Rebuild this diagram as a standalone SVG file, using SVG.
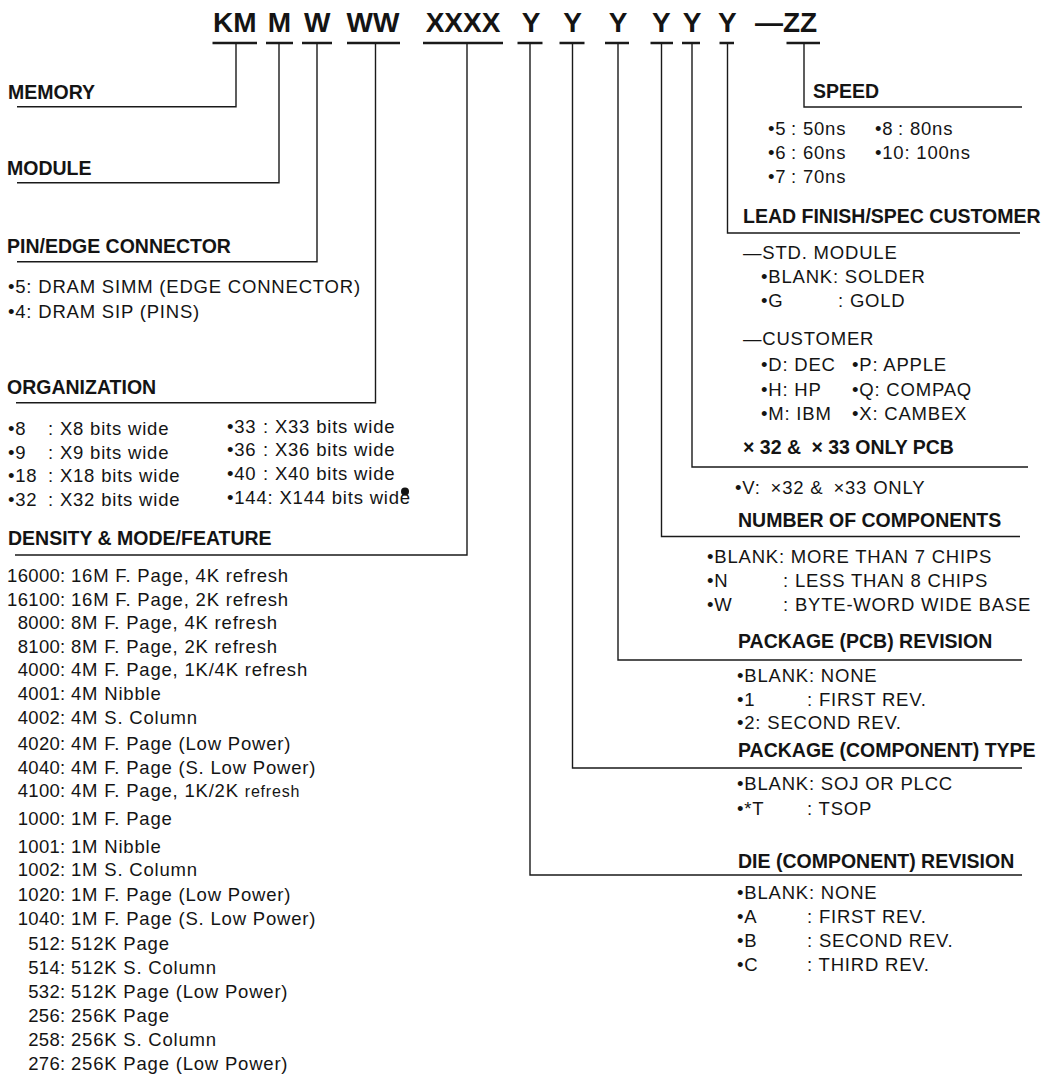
<svg xmlns="http://www.w3.org/2000/svg" width="1043" height="1075" viewBox="0 0 1043 1075">
<style>
text{fill:#141414;font-family:"Liberation Sans",Arial,Helvetica,sans-serif}
.hd{font-size:28px;font-weight:bold;text-anchor:middle}
.h{font-size:19.5px;font-weight:bold}
.t{font-size:18.5px;letter-spacing:0.8px}
.n{font-size:18.5px;letter-spacing:0.3px;text-anchor:end}
.ln{stroke:#1a1a1a;stroke-width:1.4;fill:none}
.ul{stroke:#1a1a1a;stroke-width:2.6;fill:none}
</style>
<rect width="1043" height="1075" fill="#fff"/>

<g id="code">
<text class="hd" x="234.7" y="32">KM</text>
<text class="hd" x="279.5" y="32">M</text>
<text class="hd" x="317.3" y="32">W</text>
<text class="hd" x="373" y="32">WW</text>
<text class="hd" x="463" y="32">XXXX</text>
<text class="hd" x="531" y="32">Y</text>
<text class="hd" x="572.7" y="32">Y</text>
<text class="hd" x="618" y="32">Y</text>
<text class="hd" x="661.3" y="32">Y</text>
<text class="hd" x="692" y="32">Y</text>
<text class="hd" x="727.3" y="32">Y</text>
<text class="hd" x="755" y="32" style="text-anchor:start">—ZZ</text>
<path class="ul" d="M212.5 43H257M266 43H293M302 43H332M347 43H400M423 43H503M517.5 43H542.5M559.5 43H584.5M605 43H629M650.5 43H673M682 43H700M719.5 43H734M786.5 43H820"/>
</g>

<g id="connectors">
<path class="ln" d="M236 43V106.7H17"/>
<path class="ln" d="M279 43V182.7H17"/>
<path class="ln" d="M317 43V261.7H17"/>
<path class="ln" d="M375.5 43V402.7H16"/>
<path class="ln" d="M467 43V555H15"/>
<path class="ln" d="M530 43V875H1022"/>
<path class="ln" d="M572.5 43V768H1022"/>
<path class="ln" d="M618 43V660H1022"/>
<path class="ln" d="M661.5 43V536.5H1020"/>
<path class="ln" d="M692 43V467H1028"/>
<path class="ln" d="M727.5 43V233H1020"/>
<path class="ln" d="M804 43V107H1022"/>
</g>

<g id="memory"><text class="h" x="8" y="99">MEMORY</text></g>
<g id="module"><text class="h" x="7" y="175">MODULE</text></g>
<g id="pin-edge">
<text class="h" x="7" y="253">PIN/EDGE CONNECTOR</text>
<text class="t" x="8" y="293">•5: DRAM SIMM (EDGE CONNECTOR)</text>
<text class="t" x="8" y="318">•4: DRAM SIP (PINS)</text>
</g>
<g id="organization">
<text class="h" x="7" y="394">ORGANIZATION</text>
<text class="t" x="8" y="435">•8<tspan x="48">: X8 bits wide</tspan></text>
<text class="t" x="8" y="458.5">•9<tspan x="48">: X9 bits wide</tspan></text>
<text class="t" x="8" y="482">•18<tspan x="48">: X18 bits wide</tspan></text>
<text class="t" x="8" y="505.5">•32<tspan x="48">: X32 bits wide</tspan></text>
<text class="t" x="227" y="432.5">•33<tspan x="263">: X33 bits wide</tspan></text>
<text class="t" x="227" y="456">•36<tspan x="263">: X36 bits wide</tspan></text>
<text class="t" x="227" y="480">•40<tspan x="263">: X40 bits wide</tspan></text>
<text class="t" x="227" y="504">•144: X144 bits wide</text>
<circle cx="405" cy="491.5" r="4" fill="#141414"/>
</g>
<g id="density">
<text class="h" x="8" y="545">DENSITY &amp; MODE/FEATURE</text>
<text class="n" x="65.5" y="582">16000:</text><text class="t" x="71" y="582">16M F. Page, 4K refresh</text>
<text class="n" x="65.5" y="605.5">16100:</text><text class="t" x="71" y="605.5">16M F. Page, 2K refresh</text>
<text class="n" x="65.5" y="629">8000:</text><text class="t" x="71" y="629">8M F. Page, 4K refresh</text>
<text class="n" x="65.5" y="652.5">8100:</text><text class="t" x="71" y="652.5">8M F. Page, 2K refresh</text>
<text class="n" x="65.5" y="676">4000:</text><text class="t" x="71" y="676">4M F. Page, 1K/4K refresh</text>
<text class="n" x="65.5" y="700">4001:</text><text class="t" x="71" y="700">4M Nibble</text>
<text class="n" x="65.5" y="724">4002:</text><text class="t" x="71" y="724">4M S. Column</text>
<text class="n" x="65.5" y="750">4020:</text><text class="t" x="71" y="750">4M F. Page (Low Power)</text>
<text class="n" x="65.5" y="774">4040:</text><text class="t" x="71" y="774">4M F. Page (S. Low Power)</text>
<text class="n" x="65.5" y="797">4100:</text><text class="t" x="71" y="797">4M F. Page, 1K/2K <tspan style="font-size:16px">refresh</tspan></text>
<text class="n" x="65.5" y="825">1000:</text><text class="t" x="71" y="825">1M F. Page</text>
<text class="n" x="65.5" y="853">1001:</text><text class="t" x="71" y="853">1M Nibble</text>
<text class="n" x="65.5" y="876">1002:</text><text class="t" x="71" y="876">1M S. Column</text>
<text class="n" x="65.5" y="900.5">1020:</text><text class="t" x="71" y="900.5">1M F. Page (Low Power)</text>
<text class="n" x="65.5" y="925">1040:</text><text class="t" x="71" y="925">1M F. Page (S. Low Power)</text>
<text class="n" x="65.5" y="950">512:</text><text class="t" x="71" y="950">512K Page</text>
<text class="n" x="65.5" y="974">514:</text><text class="t" x="71" y="974">512K S. Column</text>
<text class="n" x="65.5" y="998">532:</text><text class="t" x="71" y="998">512K Page (Low Power)</text>
<text class="n" x="65.5" y="1022">256:</text><text class="t" x="71" y="1022">256K Page</text>
<text class="n" x="65.5" y="1046">258:</text><text class="t" x="71" y="1046">256K S. Column</text>
<text class="n" x="65.5" y="1070">276:</text><text class="t" x="71" y="1070">256K Page (Low Power)</text>
</g>

<g id="speed">
<text class="h" x="813" y="97.5">SPEED</text>
<text class="t" x="768" y="135">•5<tspan x="791">: 50ns</tspan></text>
<text class="t" x="768" y="158.5">•6<tspan x="791">: 60ns</tspan></text>
<text class="t" x="768" y="182.5">•7<tspan x="791">: 70ns</tspan></text>
<text class="t" x="875" y="135">•8<tspan x="898">: 80ns</tspan></text>
<text class="t" x="875" y="158.5">•10: 100ns</text>
</g>
<g id="lead-finish">
<text class="h" x="743" y="223">LEAD FINISH/SPEC CUSTOMER</text>
<text class="t" x="743" y="259">—STD. MODULE</text>
<text class="t" x="761" y="283">•BLANK: SOLDER</text>
<text class="t" x="761" y="307">•G<tspan x="838">: GOLD</tspan></text>
<text class="t" x="743" y="345">—CUSTOMER</text>
<text class="t" x="761" y="371">•D: DEC</text>
<text class="t" x="852" y="371">•P: APPLE</text>
<text class="t" x="761" y="395.5">•H: HP</text>
<text class="t" x="852" y="395.5">•Q: COMPAQ</text>
<text class="t" x="761" y="419.5">•M: IBM</text>
<text class="t" x="852" y="419.5">•X: CAMBEX</text>
</g>
<g id="pcb-x32">
<text class="h" x="743" y="454">× 32 &amp; <tspan dx="5">× 33 ONLY PCB</tspan></text>
<text class="t" x="735" y="494">•V: <tspan dx="4">×32 &amp; </tspan><tspan dx="4">×33 ONLY</tspan></text>
</g>
<g id="components">
<text class="h" x="738" y="526.5">NUMBER OF COMPONENTS</text>
<text class="t" x="707" y="563">•BLANK: MORE THAN 7 CHIPS</text>
<text class="t" x="707" y="587">•N<tspan x="783">: LESS THAN 8 CHIPS</tspan></text>
<text class="t" x="707" y="611">•W<tspan x="783">: BYTE-WORD WIDE BASE</tspan></text>
</g>
<g id="pcb-revision">
<text class="h" x="738" y="648">PACKAGE (PCB) REVISION</text>
<text class="t" x="737" y="682">•BLANK: NONE</text>
<text class="t" x="737" y="705.5">•1<tspan x="807">: FIRST REV.</tspan></text>
<text class="t" x="737" y="729">•2: SECOND REV.</text>
</g>
<g id="component-type">
<text class="h" x="738" y="756.5">PACKAGE (COMPONENT) TYPE</text>
<text class="t" x="737" y="790">•BLANK: SOJ OR PLCC</text>
<text class="t" x="737" y="815">•*T<tspan x="807">: TSOP</tspan></text>
</g>
<g id="die-revision">
<text class="h" x="738" y="868">DIE (COMPONENT) REVISION</text>
<text class="t" x="737" y="899">•BLANK: NONE</text>
<text class="t" x="737" y="923">•A<tspan x="807">: FIRST REV.</tspan></text>
<text class="t" x="737" y="947">•B<tspan x="807">: SECOND REV.</tspan></text>
<text class="t" x="737" y="971">•C<tspan x="807">: THIRD REV.</tspan></text>
</g>
</svg>
